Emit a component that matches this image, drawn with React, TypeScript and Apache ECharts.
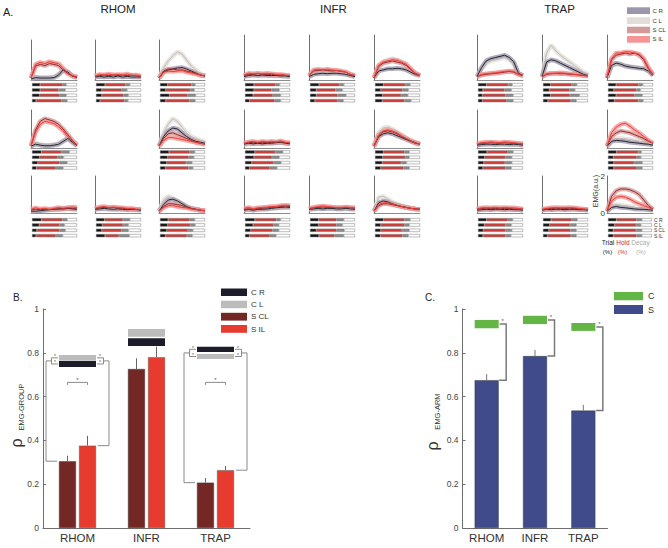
import React, { useEffect, useRef } from "react";
import * as echarts from "echarts";

const FONT = "'Liberation Sans', Arial, sans-serif";

// ---------- Panel A data ----------
const timePct = [0, 10, 20, 30, 40, 50, 60, 70, 80, 90, 100];
const traceNames = ["C R", "C L", "S CL", "S IL"];
const muscles = ["RHOM", "INFR", "TRAP"];

// EMG traces (a.u.), order: C R, C L, S CL, S IL
const RHOM_T11 = [
  [0.05, 0.12, 0.1, 0.1, 0.1, 0.12, 0.25, 0.5, 0.4, 0.2, 0.12],
  [0.05, 0.15, 0.12, 0.12, 0.12, 0.18, 0.3, 0.45, 0.42, 0.22, 0.12],
  [0.1, 0.7, 0.78, 0.72, 0.82, 0.78, 0.72, 0.5, 0.32, 0.2, 0.15],
  [0.1, 0.78, 0.88, 0.82, 0.92, 0.86, 0.82, 0.58, 0.35, 0.22, 0.15],
];
const RHOM_T12 = [
  [0.15, 0.18, 0.15, 0.18, 0.15, 0.2, 0.15, 0.18, 0.15, 0.15, 0.15],
  [0.15, 0.2, 0.18, 0.2, 0.17, 0.2, 0.18, 0.2, 0.17, 0.15, 0.15],
  [0.18, 0.22, 0.25, 0.22, 0.25, 0.22, 0.25, 0.22, 0.25, 0.2, 0.18],
  [0.2, 0.28, 0.25, 0.3, 0.25, 0.28, 0.25, 0.3, 0.22, 0.25, 0.2],
];
const RHOM_T13 = [
  [0.1, 0.4, 0.5, 0.55, 0.6, 0.62, 0.55, 0.45, 0.35, 0.25, 0.2],
  [0.1, 0.6, 0.95, 1.2, 1.4, 1.3, 1.0, 0.7, 0.5, 0.3, 0.2],
  [0.1, 0.45, 0.55, 0.55, 0.5, 0.5, 0.45, 0.4, 0.32, 0.25, 0.2],
  [0.1, 0.38, 0.45, 0.42, 0.45, 0.48, 0.4, 0.35, 0.3, 0.25, 0.2],
];
const RHOM_T21 = [
  [0.1, 0.2, 0.15, 0.12, 0.12, 0.15, 0.2, 0.35, 0.5, 0.3, 0.12],
  [0.1, 0.25, 0.2, 0.15, 0.15, 0.18, 0.25, 0.4, 0.5, 0.3, 0.12],
  [0.1, 0.95, 1.4, 1.55, 1.48, 1.4, 1.25, 1.0, 0.7, 0.4, 0.15],
  [0.1, 0.85, 1.25, 1.4, 1.35, 1.28, 1.12, 0.9, 0.6, 0.35, 0.15],
];
const RHOM_T23 = [
  [0.1, 0.6, 0.9, 1.05, 1.0, 0.8, 0.6, 0.45, 0.35, 0.3, 0.25],
  [0.1, 0.8, 1.25, 1.55, 1.4, 1.1, 0.8, 0.6, 0.5, 0.4, 0.3],
  [0.1, 0.5, 0.75, 0.8, 0.7, 0.6, 0.5, 0.4, 0.3, 0.25, 0.2],
  [0.1, 0.4, 0.55, 0.55, 0.5, 0.45, 0.4, 0.35, 0.3, 0.25, 0.2],
];
const RHOM_T31 = [
  [0.1, 0.1, 0.12, 0.15, 0.18, 0.2, 0.22, 0.25, 0.25, 0.22, 0.2],
  [0.1, 0.12, 0.12, 0.15, 0.15, 0.18, 0.2, 0.22, 0.22, 0.2, 0.2],
  [0.15, 0.2, 0.18, 0.2, 0.18, 0.2, 0.22, 0.2, 0.25, 0.25, 0.22],
  [0.2, 0.28, 0.22, 0.25, 0.2, 0.25, 0.3, 0.25, 0.3, 0.32, 0.3],
];
const RHOM_T32 = [
  [0.2, 0.22, 0.25, 0.22, 0.2, 0.22, 0.2, 0.18, 0.2, 0.18, 0.15],
  [0.2, 0.25, 0.22, 0.2, 0.22, 0.2, 0.2, 0.2, 0.18, 0.18, 0.15],
  [0.22, 0.28, 0.3, 0.28, 0.3, 0.25, 0.25, 0.22, 0.22, 0.2, 0.18],
  [0.25, 0.32, 0.35, 0.3, 0.32, 0.3, 0.28, 0.25, 0.25, 0.2, 0.2],
];
const RHOM_T33 = [
  [0.1, 0.45, 0.7, 0.75, 0.65, 0.5, 0.35, 0.25, 0.2, 0.15, 0.12],
  [0.1, 0.7, 0.9, 0.8, 0.6, 0.45, 0.35, 0.25, 0.2, 0.15, 0.12],
  [0.1, 0.35, 0.5, 0.5, 0.45, 0.4, 0.3, 0.25, 0.2, 0.15, 0.12],
  [0.1, 0.3, 0.4, 0.4, 0.35, 0.3, 0.28, 0.22, 0.2, 0.15, 0.12],
];
const INFR_T11 = [
  [0.15, 0.2, 0.22, 0.2, 0.22, 0.2, 0.2, 0.2, 0.18, 0.18, 0.15],
  [0.15, 0.2, 0.2, 0.22, 0.2, 0.22, 0.2, 0.18, 0.2, 0.15, 0.15],
  [0.2, 0.25, 0.25, 0.28, 0.25, 0.25, 0.25, 0.22, 0.22, 0.2, 0.18],
  [0.22, 0.3, 0.28, 0.3, 0.28, 0.3, 0.28, 0.25, 0.25, 0.22, 0.2],
];
const INFR_T12 = [
  [0.15, 0.25, 0.28, 0.3, 0.28, 0.3, 0.3, 0.28, 0.25, 0.2, 0.15],
  [0.15, 0.28, 0.3, 0.32, 0.3, 0.32, 0.3, 0.3, 0.25, 0.2, 0.15],
  [0.2, 0.4, 0.42, 0.45, 0.42, 0.4, 0.42, 0.38, 0.35, 0.25, 0.2],
  [0.2, 0.45, 0.48, 0.45, 0.48, 0.45, 0.42, 0.4, 0.35, 0.25, 0.2],
];
const INFR_T13 = [
  [0.1, 0.4, 0.45, 0.5, 0.5, 0.52, 0.5, 0.45, 0.35, 0.25, 0.2],
  [0.1, 0.6, 0.8, 0.9, 0.95, 0.85, 0.8, 0.7, 0.5, 0.3, 0.2],
  [0.1, 0.6, 0.75, 0.8, 0.85, 0.8, 0.75, 0.65, 0.45, 0.3, 0.2],
  [0.1, 0.65, 0.8, 0.85, 0.9, 0.88, 0.8, 0.7, 0.5, 0.3, 0.2],
];
const INFR_T21 = [
  [0.2, 0.25, 0.22, 0.25, 0.22, 0.25, 0.25, 0.28, 0.3, 0.25, 0.22],
  [0.2, 0.22, 0.25, 0.22, 0.25, 0.25, 0.25, 0.25, 0.28, 0.25, 0.22],
  [0.22, 0.28, 0.3, 0.28, 0.3, 0.28, 0.3, 0.3, 0.32, 0.28, 0.25],
  [0.25, 0.32, 0.35, 0.3, 0.35, 0.32, 0.35, 0.32, 0.38, 0.3, 0.28],
];
const INFR_T23 = [
  [0.1, 0.6, 0.75, 0.8, 0.75, 0.65, 0.55, 0.45, 0.35, 0.25, 0.2],
  [0.1, 0.8, 1.05, 1.1, 1.0, 0.85, 0.7, 0.55, 0.4, 0.3, 0.2],
  [0.1, 0.65, 0.85, 0.9, 0.85, 0.75, 0.6, 0.5, 0.38, 0.28, 0.2],
  [0.1, 0.7, 0.9, 0.95, 0.9, 0.8, 0.65, 0.5, 0.38, 0.28, 0.2],
];
const INFR_T31 = [
  [0.15, 0.2, 0.15, 0.2, 0.2, 0.22, 0.25, 0.28, 0.3, 0.32, 0.3],
  [0.15, 0.18, 0.2, 0.2, 0.22, 0.22, 0.25, 0.25, 0.28, 0.3, 0.3],
  [0.2, 0.22, 0.2, 0.25, 0.25, 0.28, 0.3, 0.32, 0.35, 0.38, 0.35],
  [0.25, 0.3, 0.22, 0.28, 0.3, 0.32, 0.35, 0.35, 0.4, 0.42, 0.4],
];
const INFR_T32 = [
  [0.2, 0.22, 0.25, 0.22, 0.25, 0.25, 0.22, 0.22, 0.25, 0.22, 0.2],
  [0.2, 0.25, 0.25, 0.25, 0.28, 0.25, 0.25, 0.22, 0.22, 0.22, 0.2],
  [0.22, 0.28, 0.3, 0.32, 0.3, 0.3, 0.28, 0.28, 0.3, 0.28, 0.25],
  [0.25, 0.3, 0.35, 0.38, 0.35, 0.32, 0.3, 0.3, 0.32, 0.3, 0.28],
];
const INFR_T33 = [
  [0.1, 0.55, 0.65, 0.6, 0.5, 0.42, 0.35, 0.3, 0.25, 0.22, 0.2],
  [0.1, 0.85, 0.9, 0.75, 0.6, 0.5, 0.4, 0.32, 0.28, 0.22, 0.2],
  [0.1, 0.4, 0.5, 0.5, 0.45, 0.4, 0.35, 0.3, 0.25, 0.22, 0.2],
  [0.1, 0.45, 0.55, 0.55, 0.48, 0.42, 0.35, 0.3, 0.25, 0.22, 0.2],
];
const TRAP_T11 = [
  [0.15, 0.55, 0.85, 0.95, 1.0, 1.05, 1.1, 1.0, 0.8, 0.3, 0.2],
  [0.15, 0.5, 0.75, 0.85, 0.9, 0.95, 1.0, 0.9, 0.7, 0.3, 0.2],
  [0.15, 0.22, 0.25, 0.28, 0.3, 0.32, 0.35, 0.38, 0.35, 0.25, 0.2],
  [0.15, 0.25, 0.28, 0.3, 0.32, 0.35, 0.38, 0.4, 0.38, 0.25, 0.2],
];
const TRAP_T12 = [
  [0.15, 0.8, 0.9, 0.85, 0.75, 0.65, 0.55, 0.45, 0.35, 0.25, 0.2],
  [0.15, 1.2, 1.55, 1.3, 1.1, 0.95, 0.8, 0.65, 0.5, 0.35, 0.25],
  [0.15, 0.25, 0.28, 0.3, 0.28, 0.28, 0.25, 0.25, 0.22, 0.2, 0.18],
  [0.15, 0.28, 0.3, 0.3, 0.32, 0.3, 0.28, 0.25, 0.25, 0.2, 0.18],
];
const TRAP_T13 = [
  [0.1, 0.65, 0.75, 0.7, 0.62, 0.58, 0.55, 0.52, 0.5, 0.4, 0.2],
  [0.1, 0.6, 0.7, 0.68, 0.62, 0.6, 0.58, 0.55, 0.52, 0.42, 0.2],
  [0.1, 0.9, 1.1, 1.15, 1.2, 1.15, 1.2, 1.1, 0.9, 0.5, 0.25],
  [0.1, 0.95, 1.2, 1.2, 1.25, 1.25, 1.2, 1.15, 0.95, 0.55, 0.25],
];
const TRAP_T21 = [
  [0.15, 0.18, 0.2, 0.2, 0.18, 0.2, 0.2, 0.18, 0.2, 0.18, 0.15],
  [0.15, 0.2, 0.2, 0.22, 0.2, 0.22, 0.2, 0.2, 0.2, 0.18, 0.15],
  [0.18, 0.25, 0.25, 0.28, 0.25, 0.25, 0.28, 0.25, 0.25, 0.22, 0.2],
  [0.2, 0.28, 0.3, 0.32, 0.3, 0.28, 0.32, 0.3, 0.28, 0.25, 0.22],
];
const TRAP_T23 = [
  [0.1, 0.35, 0.4, 0.38, 0.35, 0.3, 0.28, 0.25, 0.22, 0.2, 0.15],
  [0.1, 0.4, 0.5, 0.5, 0.48, 0.45, 0.4, 0.35, 0.3, 0.25, 0.2],
  [0.1, 0.6, 0.8, 0.9, 0.85, 0.8, 0.7, 0.6, 0.5, 0.35, 0.25],
  [0.1, 0.8, 1.1, 1.25, 1.3, 1.15, 0.95, 0.8, 0.6, 0.4, 0.25],
];
const TRAP_T31 = [
  [0.15, 0.18, 0.2, 0.18, 0.2, 0.2, 0.18, 0.2, 0.18, 0.18, 0.15],
  [0.15, 0.2, 0.2, 0.2, 0.22, 0.2, 0.2, 0.2, 0.2, 0.18, 0.15],
  [0.2, 0.25, 0.22, 0.25, 0.25, 0.22, 0.25, 0.25, 0.22, 0.22, 0.2],
  [0.22, 0.28, 0.3, 0.28, 0.3, 0.28, 0.3, 0.28, 0.28, 0.25, 0.22],
];
const TRAP_T32 = [
  [0.15, 0.2, 0.18, 0.2, 0.2, 0.18, 0.2, 0.2, 0.18, 0.18, 0.15],
  [0.15, 0.2, 0.2, 0.2, 0.2, 0.2, 0.22, 0.2, 0.2, 0.18, 0.15],
  [0.18, 0.22, 0.25, 0.22, 0.25, 0.25, 0.22, 0.25, 0.22, 0.2, 0.18],
  [0.2, 0.25, 0.28, 0.3, 0.28, 0.28, 0.3, 0.28, 0.25, 0.22, 0.2],
];
const TRAP_T33 = [
  [0.1, 0.3, 0.35, 0.3, 0.28, 0.25, 0.22, 0.2, 0.2, 0.18, 0.15],
  [0.1, 0.35, 0.45, 0.42, 0.38, 0.35, 0.3, 0.28, 0.25, 0.2, 0.15],
  [0.1, 0.9, 1.2, 1.3, 1.3, 1.25, 1.15, 1.0, 0.7, 0.4, 0.2],
  [0.1, 0.65, 0.85, 0.9, 0.85, 0.75, 0.6, 0.5, 0.4, 0.3, 0.2],
];

// Phase bars (% of trial): [trial, hold, decay] for rows C R, C L, S CL, S IL
const RHOM_B11 = [[18, 50, 8], [18, 41, 15], [17, 44, 15], [9, 56, 13]];
const RHOM_B12 = [[20, 45, 10], [13, 44, 12], [13, 48, 11], [9, 54, 8]];
const RHOM_B13 = [[17, 53, 8], [13, 54, 9], [21, 40, 18], [13, 52, 13]];
const RHOM_B21 = [[21, 44, 18], [17, 40, 13], [13, 48, 17], [10, 43, 16]];
const RHOM_B23 = [[20, 46, 11], [17, 47, 11], [15, 43, 13], [12, 51, 10]];
const RHOM_B31 = [[21, 47, 10], [16, 45, 11], [11, 50, 13], [9, 44, 15]];
const RHOM_B32 = [[19, 41, 15], [14, 46, 12], [13, 44, 15], [20, 31, 23]];
const RHOM_B33 = [[18, 48, 11], [17, 50, 11], [15, 47, 11], [12, 48, 12]];
const INFR_B11 = [[20, 48, 9], [20, 39, 17], [18, 44, 17], [10, 56, 13]];
const INFR_B12 = [[20, 45, 10], [14, 43, 15], [14, 47, 19], [11, 50, 13]];
const INFR_B13 = [[19, 48, 11], [13, 48, 13], [17, 41, 15], [16, 49, 15]];
const INFR_B21 = [[22, 45, 17], [20, 40, 16], [15, 48, 17], [10, 45, 16]];
const INFR_B23 = [[19, 46, 11], [17, 50, 9], [16, 42, 12], [13, 50, 13]];
const INFR_B31 = [[22, 48, 9], [18, 45, 12], [13, 48, 14], [10, 45, 14]];
const INFR_B32 = [[19, 40, 16], [19, 40, 13], [14, 45, 17], [20, 34, 21]];
const INFR_B33 = [[19, 46, 13], [13, 52, 11], [13, 47, 16], [12, 49, 13]];
const TRAP_B11 = [[19, 48, 9], [11, 48, 15], [10, 51, 17], [10, 54, 14]];
const TRAP_B12 = [[17, 47, 11], [14, 45, 12], [17, 43, 21], [11, 51, 12]];
const TRAP_B13 = [[18, 50, 9], [13, 50, 9], [18, 41, 17], [14, 53, 11]];
const TRAP_B21 = [[20, 46, 12], [15, 46, 14], [13, 47, 15], [11, 50, 13]];
const TRAP_B23 = [[19, 48, 7], [12, 52, 9], [13, 45, 18], [13, 51, 12]];
const TRAP_B31 = [[19, 47, 11], [14, 47, 13], [12, 49, 14], [11, 50, 12]];
const TRAP_B32 = [[18, 46, 12], [15, 45, 14], [13, 48, 13], [10, 52, 12]];
const TRAP_B33 = [[19, 46, 12], [15, 49, 11], [12, 52, 13], [12, 53, 12]];

// ---------- Panel B data (rho EMG-GROUP) ----------
const grpSCL = [0.305, 0.726, 0.207];
const grpSCLerr = [0.025, 0.049, 0.021];
const grpSIL = [0.376, 0.78, 0.264];
const grpSILerr = [0.045, 0.048, 0.019];
const grpCR = [0.749, 0.849, 0.816];
const grpCRsem = [0.014, 0.018, 0.012];
const grpCL = [0.777, 0.891, 0.783];
const grpCLsem = [0.0135, 0.0175, 0.0115];
const grpSigLevel = [0.665, 0.665];
const grpSigIdx = [0, 2];

// ---------- Panel C data (rho EMG-ARM) ----------
const armC = [0.931, 0.95, 0.918];
const armCsem = [0.019, 0.019, 0.018];
const armS = [0.675, 0.785, 0.536];
const armSerr = [0.028, 0.028, 0.026];

const panelList = [
  { m: 0, r: 0, c: 0, t: RHOM_T11, b: RHOM_B11 },
  { m: 0, r: 0, c: 1, t: RHOM_T12, b: RHOM_B12 },
  { m: 0, r: 0, c: 2, t: RHOM_T13, b: RHOM_B13 },
  { m: 0, r: 1, c: 0, t: RHOM_T21, b: RHOM_B21 },
  { m: 0, r: 1, c: 2, t: RHOM_T23, b: RHOM_B23 },
  { m: 0, r: 2, c: 0, t: RHOM_T31, b: RHOM_B31 },
  { m: 0, r: 2, c: 1, t: RHOM_T32, b: RHOM_B32 },
  { m: 0, r: 2, c: 2, t: RHOM_T33, b: RHOM_B33 },
  { m: 1, r: 0, c: 0, t: INFR_T11, b: INFR_B11 },
  { m: 1, r: 0, c: 1, t: INFR_T12, b: INFR_B12 },
  { m: 1, r: 0, c: 2, t: INFR_T13, b: INFR_B13 },
  { m: 1, r: 1, c: 0, t: INFR_T21, b: INFR_B21 },
  { m: 1, r: 1, c: 2, t: INFR_T23, b: INFR_B23 },
  { m: 1, r: 2, c: 0, t: INFR_T31, b: INFR_B31 },
  { m: 1, r: 2, c: 1, t: INFR_T32, b: INFR_B32 },
  { m: 1, r: 2, c: 2, t: INFR_T33, b: INFR_B33 },
  { m: 2, r: 0, c: 0, t: TRAP_T11, b: TRAP_B11 },
  { m: 2, r: 0, c: 1, t: TRAP_T12, b: TRAP_B12 },
  { m: 2, r: 0, c: 2, t: TRAP_T13, b: TRAP_B13 },
  { m: 2, r: 1, c: 0, t: TRAP_T21, b: TRAP_B21 },
  { m: 2, r: 1, c: 2, t: TRAP_T23, b: TRAP_B23 },
  { m: 2, r: 2, c: 0, t: TRAP_T31, b: TRAP_B31 },
  { m: 2, r: 2, c: 1, t: TRAP_T32, b: TRAP_B32 },
  { m: 2, r: 2, c: 2, t: TRAP_T33, b: TRAP_B33 },
];

const bandCol = ["#9c96ad", "#e2ddd8", "#d39a9a", "#f59595"];
const lineCol = ["#26262f", "#c2bbb5", "#922d2d", "#e8413b"];
const segCol = ["#151515", "#cf3c37", "#8b8b8b", "#ffffff"];
const grpBandCol = ["#1c1c2a", "#bcbcbc"];

function txt(text: string, x: number, y: number, size: number, fill = "#222", align = "center", rot = 0) {
  return {
    type: "text",
    x,
    y,
    rotation: rot,
    z: 100,
    silent: true,
    style: {
      text,
      fontSize: size,
      fontFamily: FONT,
      fill,
      align,
      verticalAlign: "middle",
      textAlign: align,
      textVerticalAlign: "middle",
    },
  };
}
function box(x: number, y: number, w: number, h: number, fill: string) {
  return { type: "rect", shape: { x, y, width: w, height: h }, style: { fill }, z: 100, silent: true };
}

function buildOption() {
  const grid: any[] = [];
  const xAxis: any[] = [];
  const yAxis: any[] = [];
  const series: any[] = [];
  const colX = [
    [31, 95, 159],
    [244, 309, 374],
    [477, 542, 607],
  ];
  const rowTop = [
    [40, 35, 35],
    [110, 110, 110],
    [176, 176, 176],
  ];
  const rowBase = [80, 148, 213];
  const barTop = [82, 149.3, 217];
  const order = [1, 0, 2, 3];

  panelList.forEach((p) => {
    const x = colX[p.m][p.c];
    const top = rowTop[p.r][p.m];
    const labeled = p.m === 2 && p.r === 2 && p.c === 2;
    const gi = grid.length;
    grid.push({ left: x, top, width: 46, height: rowBase[p.r] - top });
    xAxis.push({
      gridIndex: gi, type: "value", min: 0, max: 100,
      axisLine: { show: true, lineStyle: { color: "#8c8c8c", width: 1 } },
      axisTick: { show: false }, axisLabel: { show: false }, splitLine: { show: false },
    });
    yAxis.push({
      gridIndex: gi, type: "value", min: 0, max: 2, interval: 2,
      axisLine: { show: true, lineStyle: { color: "#707070", width: 1 } },
      axisTick: { show: false },
      axisLabel: { show: labeled, showMaxLabel: true, showMinLabel: true, fontSize: 8, color: "#333", margin: 2, fontFamily: FONT },
      splitLine: { show: false },
    });
    order.forEach((k) =>
      series.push({
        type: "line", xAxisIndex: gi, yAxisIndex: gi, silent: true, symbol: "none", z: 1,
        data: timePct.map((t, i) => [t, p.t[k][i]]),
        lineStyle: { color: bandCol[k], width: 4.5, opacity: 0.8 },
      })
    );
    order.forEach((k) =>
      series.push({
        type: "line", name: traceNames[k], xAxisIndex: gi, yAxisIndex: gi, silent: true, symbol: "none", z: 2,
        data: timePct.map((t, i) => [t, p.t[k][i]]),
        lineStyle: { color: lineCol[k], width: 1 },
      })
    );
    const bi = grid.length;
    grid.push({ left: x + 1, top: barTop[p.r], width: 45, height: 21.3 });
    xAxis.push({ gridIndex: bi, type: "value", min: 0, max: 100, show: false });
    yAxis.push({
      gridIndex: bi, type: "category", data: traceNames, inverse: true, position: "right",
      axisLine: { show: false }, axisTick: { show: false },
      axisLabel: { show: labeled, interval: 0, fontSize: 5, margin: 2, color: "#333", fontFamily: FONT },
      splitLine: { show: false },
    });
    const segData = [
      p.b.map((v) => v[0]),
      p.b.map((v) => v[1]),
      p.b.map((v) => v[2]),
      p.b.map((v) => 100 - v[0] - v[1] - v[2]),
    ];
    segData.forEach((d, k) =>
      series.push({
        type: "bar", xAxisIndex: bi, yAxisIndex: bi, stack: "st" + bi, data: d, barWidth: 3.2, silent: true,
        itemStyle: { color: segCol[k], borderColor: "#7c7c7c", borderWidth: 0.5 },
      })
    );
  });

  // ---------- Panel B ----------
  const GB = grid.length;
  grid.push({ left: 43, top: 309, width: 207, height: 219 });
  xAxis.push({
    gridIndex: GB, type: "category", data: muscles,
    axisLine: { show: true, lineStyle: { color: "#6e6e6e" } }, axisTick: { show: false },
    axisLabel: { fontSize: 11.5, color: "#333", margin: 4, fontFamily: FONT },
  });
  yAxis.push({
    gridIndex: GB, type: "value", min: 0, max: 1, interval: 0.2,
    axisLine: { show: true, lineStyle: { color: "#6e6e6e" } },
    axisTick: { show: true, inside: true, length: 3, lineStyle: { color: "#6e6e6e" } },
    axisLabel: { fontSize: 8.5, color: "#444", margin: 4, fontFamily: FONT },
    splitLine: { show: false },
  });
  series.push({
    type: "bar", name: "S CL", xAxisIndex: GB, yAxisIndex: GB, data: grpSCL, barWidth: 17, barGap: "18%",
    itemStyle: { color: "#732825", borderColor: "#3d3d3d", borderWidth: 0.5 }, z: 2,
  });
  series.push({
    type: "bar", name: "S IL", xAxisIndex: GB, yAxisIndex: GB, data: grpSIL, barWidth: 17, barGap: "18%",
    itemStyle: { color: "#e63b2e", borderColor: "#5a5a5a", borderWidth: 0.5 }, z: 2,
  });
  series.push({
    type: "custom", xAxisIndex: GB, yAxisIndex: GB, silent: true, z: 3,
    data: [
      ...grpSCL.map((v, i) => [i, v, grpSCLerr[i], -1]),
      ...grpSIL.map((v, i) => [i, v, grpSILerr[i], 1]),
    ],
    renderItem: (params: any, api: any) => {
      const a = api.coord([api.value(0), api.value(1)]);
      const b = api.coord([api.value(0), api.value(1) + api.value(2)]);
      const x = a[0] + api.value(3) * 10;
      return { type: "line", shape: { x1: x, y1: a[1], x2: x, y2: b[1] }, style: { stroke: "#666", lineWidth: 1 } };
    },
  });
  series.push({
    type: "custom", xAxisIndex: GB, yAxisIndex: GB, silent: true, z: 3,
    data: [
      ...grpCR.map((v, i) => [i, v, grpCRsem[i], 0]),
      ...grpCL.map((v, i) => [i, v, grpCLsem[i], 1]),
    ],
    renderItem: (params: any, api: any) => {
      const t = api.coord([api.value(0), api.value(1) + api.value(2)]);
      const b = api.coord([api.value(0), api.value(1) - api.value(2)]);
      return {
        type: "rect",
        shape: { x: t[0] - 18.5, y: t[1], width: 37, height: b[1] - t[1] },
        style: { fill: grpBandCol[api.value(3)] },
      };
    },
  });
  const stroke = { stroke: "#8a8a8a", lineWidth: 1, fill: "none" };
  const star = (x: number, y: number, size = 6) => ({
    type: "text", x, y,
    style: { text: "*", fontSize: size, fill: "#555", align: "center", verticalAlign: "middle", textAlign: "center", textVerticalAlign: "middle" },
  });
  series.push({
    type: "custom", xAxisIndex: GB, yAxisIndex: GB, silent: true, z: 4,
    data: [0, 2].map((i) => [i, grpCR[i], grpCL[i], grpSCL[i], grpSIL[i]]),
    renderItem: (params: any, api: any) => {
      const i = api.value(0);
      const cx = api.coord([i, 0])[0];
      const y1 = api.coord([i, api.value(1)])[1];
      const y2 = api.coord([i, api.value(2)])[1];
      const yS = api.coord([i, api.value(3)])[1];
      const yI = api.coord([i, api.value(4)])[1];
      const ym = (y1 + y2) / 2;
      const L = (pts: number[][]) => ({ type: "polyline", shape: { points: pts }, style: stroke });
      return {
        type: "group",
        children: [
          L([[cx - 19.5, y1], [cx - 26, y1], [cx - 26, y2], [cx - 19.5, y2]]),
          L([[cx - 26, ym], [cx - 31.5, ym], [cx - 31.5, yS], [cx - 20.5, yS]]),
          L([[cx + 19.5, y1], [cx + 26, y1], [cx + 26, y2], [cx + 19.5, y2]]),
          L([[cx + 26, ym], [cx + 31.5, ym], [cx + 31.5, yI], [cx + 20.5, yI]]),
          star(cx - 22.5, y1 - 1.5, 5),
          star(cx - 22.5, y2 - 1.5, 5),
          star(cx + 22.5, y1 - 1.5, 5),
          star(cx + 22.5, y2 - 1.5, 5),
        ],
      };
    },
  });
  series.push({
    type: "custom", xAxisIndex: GB, yAxisIndex: GB, silent: true, z: 4,
    data: grpSigIdx.map((i, k) => [i, grpSigLevel[k]]),
    renderItem: (params: any, api: any) => {
      const p = api.coord([api.value(0), api.value(1)]);
      const cx = p[0];
      const y = p[1];
      return {
        type: "group",
        children: [
          { type: "polyline", shape: { points: [[cx - 10, y + 2.5], [cx - 10, y], [cx + 10, y], [cx + 10, y + 2.5]] }, style: stroke },
          star(cx, y - 2.5, 6),
        ],
      };
    },
  });

  // ---------- Panel C ----------
  const GC = grid.length;
  grid.push({ left: 462.5, top: 309, width: 145, height: 219 });
  xAxis.push({
    gridIndex: GC, type: "category", data: muscles,
    axisLine: { show: true, lineStyle: { color: "#6e6e6e" } }, axisTick: { show: false },
    axisLabel: { fontSize: 11.5, color: "#333", margin: 4, fontFamily: FONT },
  });
  yAxis.push({
    gridIndex: GC, type: "value", min: 0, max: 1, interval: 0.2,
    axisLine: { show: true, lineStyle: { color: "#6e6e6e" } },
    axisTick: { show: true, inside: true, length: 3, lineStyle: { color: "#6e6e6e" } },
    axisLabel: { fontSize: 8.5, color: "#444", margin: 4, fontFamily: FONT },
    splitLine: { show: false },
  });
  series.push({
    type: "bar", name: "S", xAxisIndex: GC, yAxisIndex: GC, data: armS, barWidth: 24,
    itemStyle: { color: "#404b8b", borderColor: "#3a3a3a", borderWidth: 0.5 }, z: 2,
  });
  series.push({
    type: "custom", xAxisIndex: GC, yAxisIndex: GC, silent: true, z: 3,
    data: armS.map((v, i) => [i, v, armSerr[i]]),
    renderItem: (params: any, api: any) => {
      const a = api.coord([api.value(0), api.value(1)]);
      const b = api.coord([api.value(0), api.value(1) + api.value(2)]);
      return { type: "line", shape: { x1: a[0], y1: a[1], x2: a[0], y2: b[1] }, style: { stroke: "#777", lineWidth: 1 } };
    },
  });
  series.push({
    type: "custom", xAxisIndex: GC, yAxisIndex: GC, silent: true, z: 3,
    data: armC.map((v, i) => [i, v, armCsem[i]]),
    renderItem: (params: any, api: any) => {
      const t = api.coord([api.value(0), api.value(1) + api.value(2)]);
      const b = api.coord([api.value(0), api.value(1) - api.value(2)]);
      return { type: "rect", shape: { x: t[0] - 12, y: t[1], width: 24, height: b[1] - t[1] }, style: { fill: "#63b646" } };
    },
  });
  series.push({
    type: "custom", xAxisIndex: GC, yAxisIndex: GC, silent: true, z: 4,
    data: armC.map((v, i) => [i, v, armS[i]]),
    renderItem: (params: any, api: any) => {
      const t = api.coord([api.value(0), api.value(1)]);
      const b = api.coord([api.value(0), api.value(2)]);
      const xb = t[0] + 19.5;
      return {
        type: "group",
        children: [
          { type: "polyline", shape: { points: [[t[0] + 13, t[1]], [xb, t[1]], [xb, b[1]], [t[0] + 12.5, b[1]]] }, style: { stroke: "#7a7a7a", lineWidth: 1.5, fill: "none" } },
          star(xb - 3.5, t[1] - 3, 6),
        ],
      };
    },
  });

  // ---------- Graphic texts and legends ----------
  const R = Math.PI / 2;
  const graphic: any[] = [
    txt("A.", 3, 11.5, 11, "#222", "left"),
    txt("RHOM", 118, 9, 11.5, "#222"),
    txt("INFR", 333.5, 9, 11.5, "#222"),
    txt("TRAP", 559.5, 9, 11.5, "#222"),
    box(627, 7.3, 23, 6.7, bandCol[0]),
    box(627, 17.3, 23, 6.7, bandCol[1]),
    box(627, 26.7, 23, 6.6, bandCol[2]),
    box(627, 36, 23, 6.7, bandCol[3]),
    txt("C R", 652.5, 10.7, 6, "#333", "left"),
    txt("C L", 652.5, 20.7, 6, "#333", "left"),
    txt("S CL", 652.5, 30, 6, "#333", "left"),
    txt("S IL", 652.5, 39.4, 6, "#333", "left"),
    txt("EMG(a.u.)", 595.5, 191, 7, "#333", "center", R),
    txt("Trial", 608, 242.5, 6.5, "#222"),
    txt("Hold", 623, 242.5, 6.5, "#d0302b"),
    txt("Decay", 640.5, 242.5, 6.5, "#aaaaaa"),
    txt("(%)", 607.5, 251.5, 6, "#222"),
    txt("(%)", 622.5, 251.5, 6, "#d0302b"),
    txt("(%)", 641, 251.5, 6, "#aaaaaa"),
    txt("B.", 13, 297, 10, "#222", "left"),
    txt("C.", 425, 297, 10, "#222", "left"),
    txt("ρ", 16, 443, 16, "#333", "center", R),
    txt("EMG-GROUP", 21, 407, 7.5, "#333", "center", R),
    txt("ρ", 432, 446, 16, "#333", "center", R),
    txt("EMG-ARM", 437.5, 411.5, 7.5, "#333", "center", R),
    box(221, 288.5, 26, 7.5, grpBandCol[0]),
    box(221, 300.7, 26, 7.5, grpBandCol[1]),
    box(221, 312.8, 26, 7.8, "#732825"),
    box(221, 325, 26, 7.8, "#e63b2e"),
    txt("C R", 251, 292, 8, "#333", "left"),
    txt("C L", 251, 304.5, 8, "#333", "left"),
    txt("S CL", 251, 316.7, 8, "#333", "left"),
    txt("S IL", 251, 329, 8, "#333", "left"),
    box(614, 292, 29, 8.3, "#63b646"),
    box(614, 305, 29, 9, "#404b8b"),
    txt("C", 648, 296, 9, "#333", "left"),
    txt("S", 648, 309.5, 9, "#333", "left"),
  ];

  return {
    animation: false,
    backgroundColor: "#ffffff",
    textStyle: { fontFamily: FONT },
    grid,
    xAxis,
    yAxis,
    series,
    graphic: { elements: graphic },
  };
}

export default function App() {
  const ref = useRef<HTMLDivElement>(null);
  useEffect(() => {
    document.body.style.margin = "0";
    const chart = echarts.init(ref.current as HTMLDivElement, undefined, { renderer: "svg" });
    chart.setOption(buildOption() as any);
    return () => chart.dispose();
  }, []);
  return <div ref={ref} style={{ width: 668, height: 548 }} />;
}
